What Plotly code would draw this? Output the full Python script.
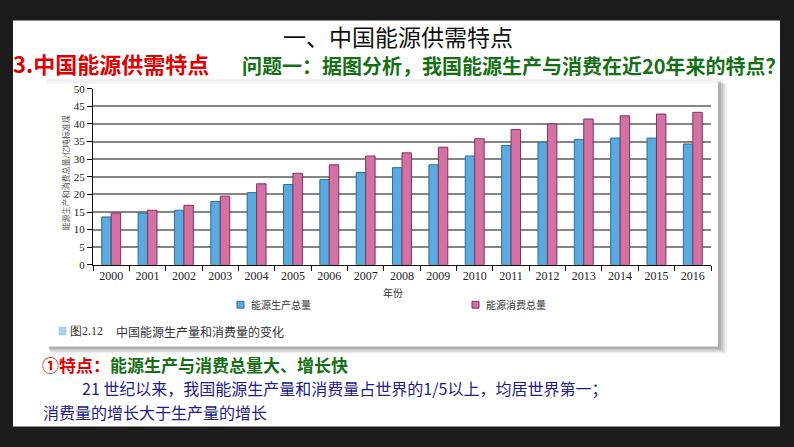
import plotly.graph_objects as go

W, H = 794, 447

years = [str(y) for y in range(2000, 2017)]
production = [13.6, 14.7, 15.5, 18.0, 20.5, 22.8, 24.2, 26.2, 27.6, 28.4, 30.9, 33.9, 34.8, 35.6, 36.0, 36.0, 34.3]
consumption = [14.7, 15.5, 16.9, 19.5, 23.0, 26.0, 28.4, 30.9, 31.8, 33.4, 35.8, 38.4, 40.0, 41.4, 42.3, 42.8, 43.3]
y_ticks = list(range(0, 51, 5))
series_names = ["能源生产总量", "能源消费总量"]


def px(x):
    return x / W


def py(y):
    return 1 - y / H


CJK = "Noto Sans CJK SC"
SERIF = "Liberation Serif, DejaVu Serif, serif"

fig = go.Figure()
fig.add_trace(go.Bar(
    x=years, y=production, name=series_names[0],
    marker=dict(color="#5aaade", line=dict(color="#2b6f9c", width=1)),
    showlegend=False,
))
fig.add_trace(go.Bar(
    x=years, y=consumption, name=series_names[1],
    marker=dict(color="#d272a2", line=dict(color="#85305d", width=1)),
    showlegend=False,
))

shapes = []
# white slide
shapes.append(dict(type="rect", xref="paper", yref="paper", x0=px(13), x1=px(780), y0=py(432), y1=py(15),
                   fillcolor="white", line=dict(width=0), layer="below"))
# chart image shadow
for off, op in [(9, 0.06), (7, 0.08), (5, 0.10), (3, 0.12)]:
    shapes.append(dict(type="rect", xref="paper", yref="paper", x0=px(47 + off * 0.4), x1=px(718 + off),
                       y0=py(350 + off * 0.8), y1=py(75 + off * 0.6),
                       fillcolor=f"rgba(0,0,0,{op})", line=dict(width=0), layer="below"))
shapes.append(dict(type="rect", xref="paper", yref="paper", x0=px(47), x1=px(718), y0=py(350), y1=py(75),
                   fillcolor="white", line=dict(width=0), layer="below"))
shapes.append(dict(type="rect", xref="paper", yref="paper", x0=px(47), x1=px(718), y0=py(80), y1=py(75),
                   fillcolor="#f2f2f2", line=dict(width=0), layer="below"))
# manual legend squares
shapes.append(dict(type="rect", xref="paper", yref="paper", x0=px(237), x1=px(244), y0=py(310.5), y1=py(303.5),
                   fillcolor="#5aaade", line=dict(color="#2b6f9c", width=1), layer="above"))
shapes.append(dict(type="rect", xref="paper", yref="paper", x0=px(472), x1=px(479), y0=py(310.5), y1=py(303.5),
                   fillcolor="#d272a2", line=dict(color="#85305d", width=1), layer="above"))
# caption square
shapes.append(dict(type="rect", xref="paper", yref="paper", x0=px(59), x1=px(66), y0=py(338), y1=py(330),
                   fillcolor="#a9d3ec", line=dict(color="#8abbd8", width=0.5), layer="above"))

annotations = []


def txt(x, y, text, size, color, family=CJK, xanchor="left", bold=False, textangle=0):
    t = f"<b>{text}</b>" if bold else text
    annotations.append(dict(x=px(x), y=py(y), xref="paper", yref="paper", text=t, showarrow=False,
                            xanchor=xanchor, yanchor="middle", textangle=textangle,
                            font=dict(family=family, size=size, color=color)))


txt(398, 31, "一、中国能源供需特点", 23, "#111111", xanchor="center")
txt(11, 59, "3.中国能源供需特点", 22, "#e00000", bold=True)
txt(240, 61, "问题一：据图分析，我国能源生产与消费在近20年来的特点？", 20, "#157015", bold=True)
txt(393, 294, "年份", 10, "#333333", xanchor="center")
txt(249, 307, series_names[0], 10, "#333333")
txt(484, 307, series_names[1], 10, "#333333")
txt(68, 334, "图2.12", 12, "#333333", family=SERIF)
txt(114, 334, "中国能源生产量和消费量的变化", 12, "#333333")
txt(65, 172, "能源生产和消费总量/亿吨标准煤", 8, "#555555", xanchor="center", textangle=-90)
txt(40, 368, "<span style='color:#e00000'>①特点：</span>能源生产与消费总量大、增长快", 17, "#157015", bold=True)
txt(80, 393, "21 世纪以来，我国能源生产量和消费量占世界的1/5以上，均居世界第一；", 16, "#1c1c8a")
txt(41, 417, "消费量的增长大于生产量的增长", 16, "#1c1c8a")

fig.update_layout(
    width=W, height=H,
    margin=dict(l=0, r=0, t=0, b=0),
    paper_bgcolor="#1c1c1c",
    plot_bgcolor="rgba(0,0,0,0)",
    barmode="group", bargap=0.48, bargroupgap=0,
    shapes=shapes, annotations=annotations,
    xaxis=dict(domain=[px(93), px(711)], type="category", tickson="boundaries",
               ticks="outside", ticklen=5, tickcolor="#111", showline=True, linecolor="#111", linewidth=1.2,
               showgrid=False, tickfont=dict(family=SERIF, size=12, color="#222"), fixedrange=True),
    yaxis=dict(domain=[py(266), py(85)], range=[0, 50], tickvals=y_ticks,
               ticks="outside", ticklen=5, tickcolor="#111", showline=True, linecolor="#111", linewidth=1.2,
               showgrid=True, gridcolor="#858585", gridwidth=1.5, zeroline=False,
               tickfont=dict(family=SERIF, size=11, color="#222"), fixedrange=True),
    showlegend=False,
)

fig.write_html("out.html")
